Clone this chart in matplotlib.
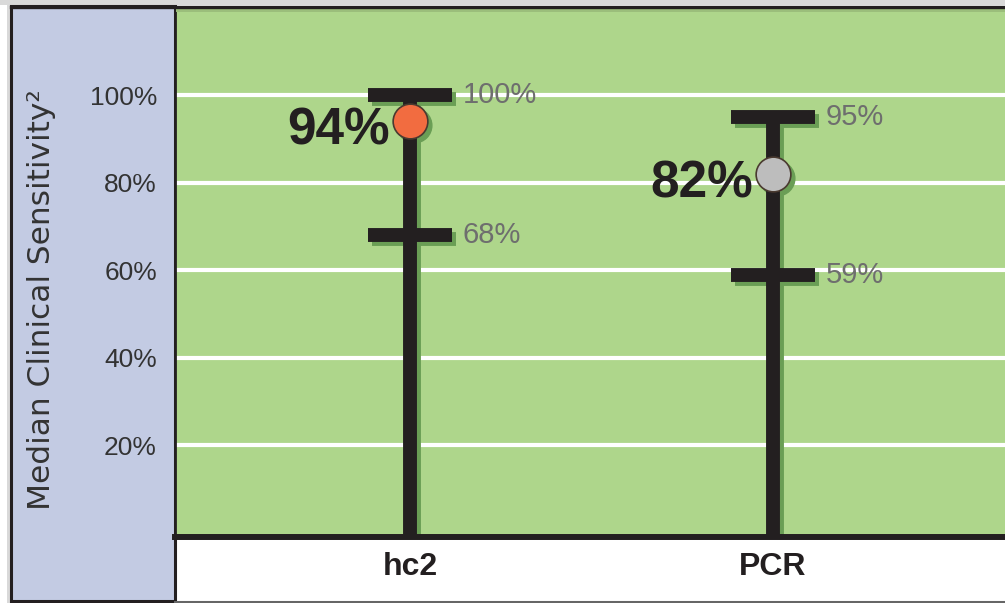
import matplotlib.pyplot as plt
import matplotlib.transforms as mtransforms
from matplotlib.patches import Rectangle
from matplotlib.lines import Line2D

tests = ["hc2", "PCR"]
median = [94, 82]
upper = [100, 95]
lower = [68, 59]
dot_colors = ["#F26C40", "#BDBDBD"]
yticks = [20, 40, 60, 80, 100]

W, H = 1005, 603
green = "#AED68B"
shadow_green = "#6A9E55"
ink = "#231F20"

fig = plt.figure(figsize=(W / 100, H / 100), dpi=100)
fig.patch.set_facecolor("white")

# thin light gray margin at the top and left, like the scanned source
fig.add_artist(Rectangle((0, (H - 5) / H), 1, 5 / H, transform=fig.transFigure,
                         facecolor="#D9D9D9", edgecolor="none", zorder=-2))
fig.add_artist(Rectangle((7 / W, 0), 4 / W, 1, transform=fig.transFigure,
                         facecolor="#D9D9D9", edgecolor="none", zorder=-2))

# light blue side panel holding the y label and ticks
fig.add_artist(Rectangle((11 / W, 2 / H), 164 / W, 595 / H, transform=fig.transFigure,
                         facecolor="#C3CBE3", edgecolor=ink, lw=2.2, zorder=-1))
fig.add_artist(Line2D([175 / W, 175 / W], [2 / H, 66 / H], color=ink, lw=2, transform=fig.transFigure))
fig.add_artist(Line2D([175 / W, 1], [1.5 / H, 1.5 / H], color="#666666", lw=2.2, transform=fig.transFigure))

ax = fig.add_axes([175 / W, 66 / H, 830 / W, 529 / H])
ax.set_facecolor(green)
ax.set_xlim(-0.647, 1.639)
ax.set_ylim(-0.9, 119.9)

# black top rule with a soft shadow under it
fig.add_artist(Line2D([11 / W, 1], [(H - 6.5) / H, (H - 6.5) / H], color=ink, lw=2.4,
                      transform=fig.transFigure, zorder=6))
fig.add_artist(Rectangle((176 / W, (H - 12) / H), 829 / W, 4 / H, transform=fig.transFigure,
                         facecolor="#9BBE7B", edgecolor="none", zorder=5))

shadow = ax.transData + mtransforms.ScaledTranslation(4 / 100, -4 / 100, fig.dpi_scale_trans)
half = 0.115

for i in range(len(tests)):
    # shadows
    ax.vlines(i, -1, upper[i], color=shadow_green, lw=10, transform=shadow, zorder=2)
    ax.hlines([upper[i], lower[i]], i - half, i + half, color=shadow_green, lw=10, transform=shadow, zorder=2)
    ax.plot(i, median[i], "o", ms=25, color=shadow_green, transform=shadow, zorder=2)
    # bars
    ax.vlines(i, -1, upper[i], color=ink, lw=10, zorder=3)
    ax.hlines([upper[i], lower[i]], i - half, i + half, color=ink, lw=10, zorder=3)
    ax.plot(i, median[i], "o", ms=25, mfc=dot_colors[i], mec="#4a3a30", mew=1.2, zorder=4)
    # labels
    ax.text(i - 0.055, median[i] - 2.3, f"{median[i]}%", ha="right", va="center",
            fontsize=37, weight="bold", color=ink, family="Liberation Sans", zorder=5)
    for v in (upper[i], lower[i]):
        ax.text(i + 0.145, v, f"{v}%", ha="left", va="center", fontsize=21,
                color="#6E6E6E", family="Liberation Sans", zorder=5)

ax.set_yticks(yticks, [f"{v}%" for v in yticks])
ax.set_xticks(range(len(tests)), tests)
ax.tick_params(axis="y", length=0, pad=13, labelsize=19, labelcolor="#333333")
ax.tick_params(axis="x", length=0, pad=11, labelsize=23, labelcolor=ink)
for lab in ax.get_yticklabels() + ax.get_xticklabels():
    lab.set_family("Liberation Sans")
for lab in ax.get_xticklabels():
    lab.set_weight("bold")

ax.yaxis.grid(True, color="white", lw=3)
ax.set_axisbelow(True)

ax.spines["top"].set_visible(False)
ax.spines["right"].set_visible(False)
ax.spines["left"].set_color(ink)
ax.spines["left"].set_linewidth(2)
ax.spines["bottom"].set_color(ink)
ax.spines["bottom"].set_linewidth(4.3)

fig.text(42 / W, (H - 300) / H, "Median Clinical Sensitivity²", rotation=90,
         ha="center", va="center", fontsize=22.5, color="#333333")

fig.savefig("out.png", dpi=100)
